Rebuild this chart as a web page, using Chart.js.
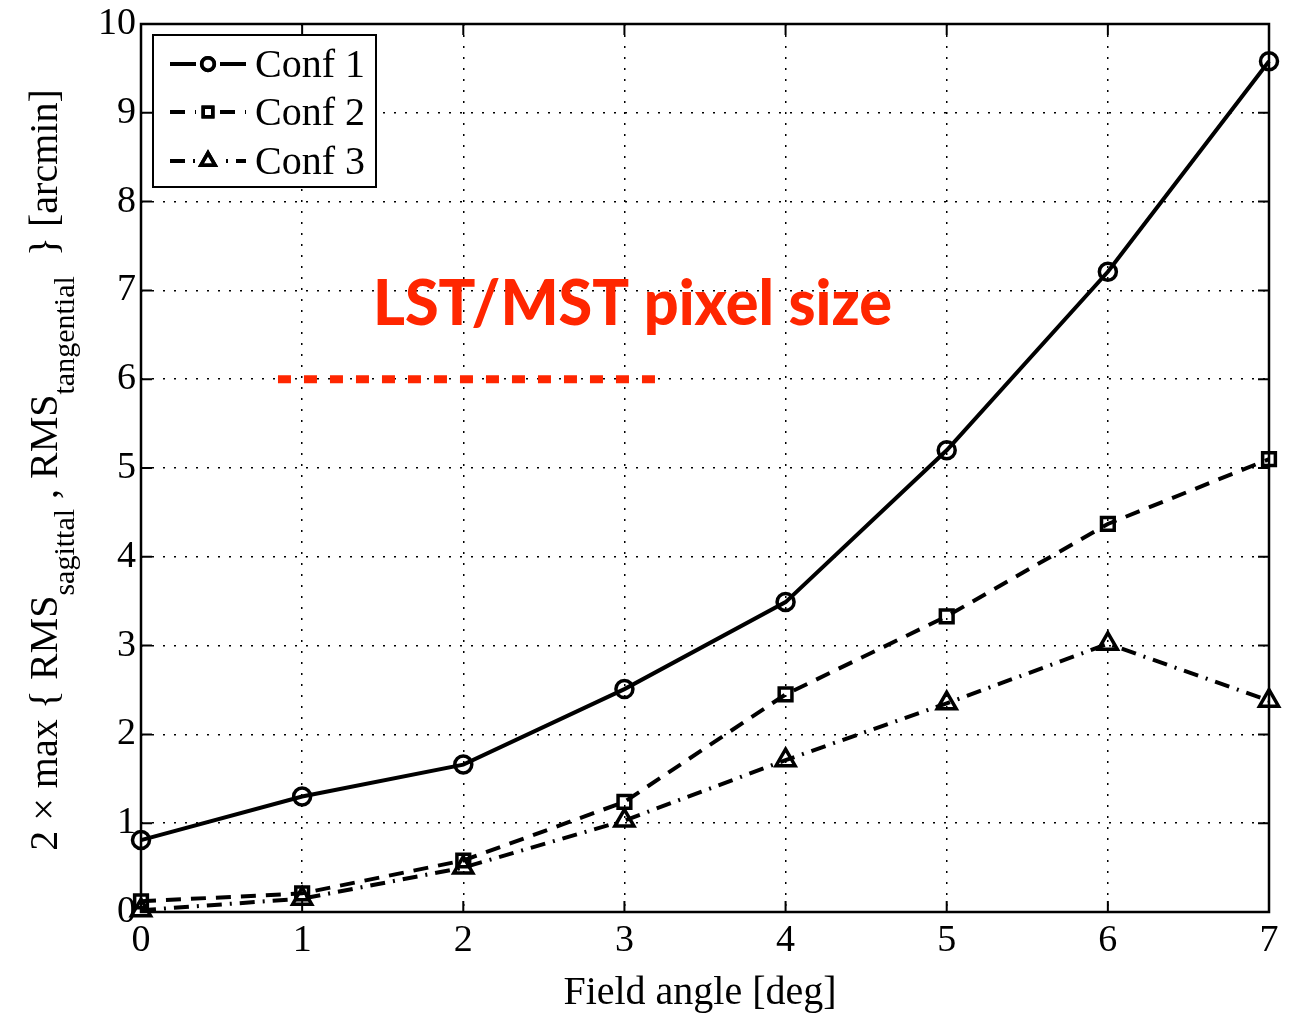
<!DOCTYPE html>
<html>
<head>
<meta charset="utf-8">
<script src="https://cdn.jsdelivr.net/npm/chart.js@4"></script>
<style>
  body { margin: 0; background: #fff; }
  canvas { display: block; }
</style>
</head>
<body>
<canvas id="rmsChart" width="1298" height="1015"></canvas>
<script>
// data
var fieldAngle = [0, 1, 2, 3, 4, 5, 6, 7];
var conf1 = [0.81, 1.30, 1.66, 2.51, 3.49, 5.20, 7.21, 9.58];
var conf2 = [0.12, 0.21, 0.58, 1.24, 2.45, 3.33, 4.37, 5.10];
var conf3 = [0.02, 0.15, 0.50, 1.03, 1.71, 2.35, 3.02, 2.38];
var pixelSizeX = [0.85, 3.27];
var pixelSizeY = [6, 6];
var seriesNames = ['Conf 1', 'Conf 2', 'Conf 3'];
var pixelLabel = 'LST/MST pixel size';
var pixelLabelAt = [3.05, 6.84];

function pts(xs, ys) {
    return xs.map(function(x, i) { return { x: x, y: ys[i] }; });
}

var serif = '"Liberation Serif", "Times New Roman", serif';

var styles = [
    { dash: [], pointStyle: 'circle', radius: 8.5 },
    { dash: [15, 10], pointStyle: 'rect', radius: 9 },
    { dash: [15, 8, 2, 8], pointStyle: 'triangle', radius: 11 }
];

var extras = {
    id: 'extras',
    afterDatasetsDraw: function(chart) {
        var ctx = chart.ctx;
        var a = chart.chartArea;
        var xs = chart.scales.x, ys = chart.scales.y;
        ctx.save();

        // frame + inward ticks
        ctx.strokeStyle = '#000';
        ctx.lineWidth = 2.5;
        ctx.setLineDash([]);
        ctx.strokeRect(a.left, a.top, a.right - a.left, a.bottom - a.top);
        ctx.lineWidth = 2;
        ctx.beginPath();
        fieldAngle.forEach(function(v) {
            var px = xs.getPixelForValue(v);
            ctx.moveTo(px, a.bottom); ctx.lineTo(px, a.bottom - 11);
            ctx.moveTo(px, a.top); ctx.lineTo(px, a.top + 11);
        });
        for (var v = 0; v <= 10; v++) {
            var py = ys.getPixelForValue(v);
            ctx.moveTo(a.left, py); ctx.lineTo(a.left + 11, py);
            ctx.moveTo(a.right, py); ctx.lineTo(a.right - 11, py);
        }
        ctx.stroke();

        // red annotation text
        ctx.fillStyle = '#ff2600';
        ctx.font = '900 62px Lato, "Open Sans", sans-serif';
        var tw = ctx.measureText(pixelLabel).width;
        var sx = 519 / tw;
        ctx.translate(xs.getPixelForValue(pixelLabelAt[0]), ys.getPixelForValue(pixelLabelAt[1]));
        ctx.scale(sx, 1);
        ctx.textAlign = 'center';
        ctx.textBaseline = 'middle';
        ctx.fillText(pixelLabel, 0, 0);
        ctx.setTransform(1, 0, 0, 1, 0, 0);

        // legend box
        var lx = 153, ly = 35, lw = 223, lh = 152;
        ctx.fillStyle = '#fff';
        ctx.fillRect(lx, ly, lw, lh);
        ctx.strokeStyle = '#000';
        ctx.lineWidth = 2;
        ctx.strokeRect(lx, ly, lw, lh);
        var rowsY = [64, 112, 161];
        ctx.font = '40px ' + serif;
        ctx.textAlign = 'left';
        ctx.textBaseline = 'middle';
        seriesNames.forEach(function(name, i) {
            var y = rowsY[i];
            ctx.strokeStyle = '#000';
            ctx.lineWidth = 4;
            ctx.setLineDash(styles[i].dash);
            ctx.beginPath();
            ctx.moveTo(170, y); ctx.lineTo(246, y);
            ctx.stroke();
            ctx.setLineDash([]);
            ctx.lineWidth = 3.5;
            ctx.fillStyle = '#fff';
            ctx.fillRect(196, y - 10, 24, 20);
            Chart.helpers.drawPoint(ctx, { pointStyle: styles[i].pointStyle, radius: styles[i].radius * 0.75, borderWidth: 3.5 }, 208, y);
            ctx.stroke();
            ctx.fillStyle = '#000';
            ctx.fillText(name, 255, y + 2);
        });

        // y-axis title with subscripts
        var parts = [
            ['2 \u00d7 max { RMS', 0, 40],
            ['sagittal', 17, 30],
            [' , RMS', 0, 40],
            ['tangential', 17, 30],
            ['  } [arcmin]', 0, 40]
        ];
        var total = 0;
        parts.forEach(function(p) {
            ctx.font = p[2] + 'px ' + serif;
            p.push(ctx.measureText(p[0]).width);
            total += p[3];
        });
        ctx.translate(57, 470);
        ctx.rotate(-Math.PI / 2);
        ctx.textBaseline = 'alphabetic';
        ctx.textAlign = 'left';
        ctx.fillStyle = '#000';
        var cx = -total / 2;
        parts.forEach(function(p) {
            ctx.font = p[2] + 'px ' + serif;
            ctx.fillText(p[0], cx, p[1]);
            cx += p[3];
        });
        ctx.setTransform(1, 0, 0, 1, 0, 0);

        // x-axis title
        ctx.font = '40px ' + serif;
        ctx.textAlign = 'center';
        ctx.fillText('Field angle [deg]', 700, 1004);
        ctx.restore();
    }
};

function series(label, ys, i) {
    return {
        label: label,
        data: pts(fieldAngle, ys),
        borderColor: '#000',
        backgroundColor: 'rgba(0,0,0,0)',
        borderWidth: 4,
        borderDash: styles[i].dash,
        pointStyle: styles[i].pointStyle,
        pointRadius: styles[i].radius,
        pointBorderWidth: 3.5,
        pointBorderColor: '#000',
        pointBackgroundColor: 'rgba(0,0,0,0)',
        tension: 0,
        clip: false
    };
}

var ctx = document.getElementById('rmsChart').getContext('2d');
var rmsChart = new Chart(ctx, {
    type: 'line',
    data: {
        datasets: [
            {
                label: 'pixel size',
                data: pts(pixelSizeX, pixelSizeY),
                borderColor: '#ff2600',
                borderWidth: 8,
                borderDash: [13, 13],
                borderCapStyle: 'butt',
                pointRadius: 0,
                clip: false
            },
            series(seriesNames[0], conf1, 0),
            series(seriesNames[1], conf2, 1),
            series(seriesNames[2], conf3, 2)
        ]
    },
    options: {
        responsive: false,
        animation: false,
        layout: { padding: { top: 22, right: 29, left: 0, bottom: 0 } },
        plugins: {
            legend: { display: false },
            tooltip: { enabled: false }
        },
        scales: {
            x: {
                type: 'linear',
                min: 0,
                max: 7,
                afterFit: function(s) { s.height = 103; },
                ticks: {
                    stepSize: 1,
                    maxRotation: 0,
                    padding: 10,
                    color: '#000',
                    font: { family: serif, size: 38, lineHeight: 1 }
                },
                grid: { color: '#000', lineWidth: 1.5, drawTicks: false },
                border: { display: false, dash: [2, 9] }
            },
            y: {
                min: 0,
                max: 10,
                afterFit: function(s) { s.width = 141; },
                ticks: {
                    stepSize: 1,
                    padding: 5,
                    color: '#000',
                    font: { family: serif, size: 38, lineHeight: 1 }
                },
                grid: { color: '#000', lineWidth: 1.5, drawTicks: false },
                border: { display: false, dash: [2, 9] }
            }
        }
    },
    plugins: [extras]
});
</script>
</body>
</html>
